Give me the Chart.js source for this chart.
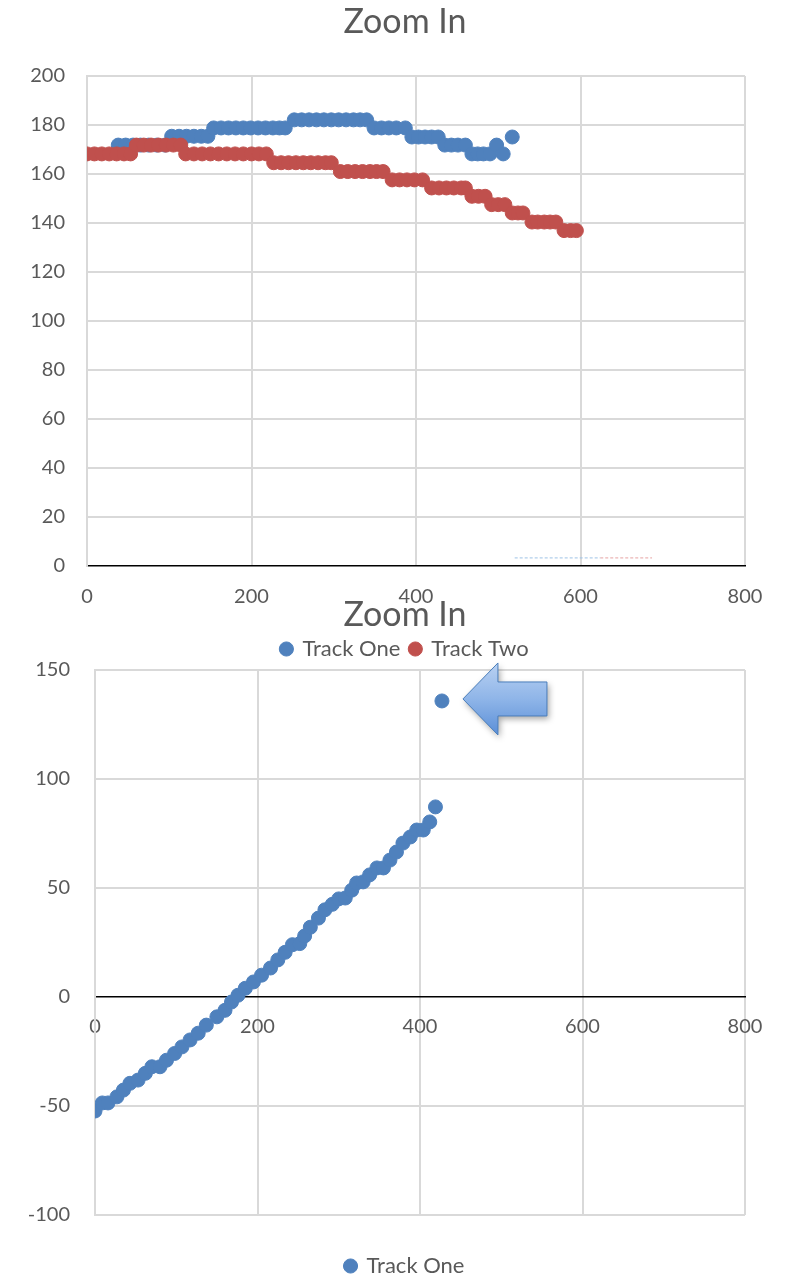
<!DOCTYPE html>
<html>
<head>
<meta charset="utf-8">
<title>Zoom In</title>
<script src="https://cdn.jsdelivr.net/npm/chart.js@4.4.0/dist/chart.umd.min.js"></script>
<style>
  html, body { margin: 0; padding: 0; background: #fff; overflow: hidden; width: 789px; height: 1276px; }
  .box { position: absolute; left: 0; width: 810px; }
  #top-box { top: 0; height: 680px; }
  #bottom-box { top: 590px; height: 700px; }
</style>
</head>
<body>
<div class="box" id="top-box"><canvas id="top-chart"></canvas></div>
<div class="box" id="bottom-box"><canvas id="bottom-chart"></canvas></div>
<script>
// Top chart: two tracks (distance vs. elevation)
const trackOneX = [38, 47, 56, 65, 75, 85, 95,
  103, 112, 121, 130, 139, 147,
  154, 163, 172, 181, 190, 199, 208, 217, 226, 234, 241,
  252, 261, 270, 279, 288, 297, 306, 315, 324, 332, 340,
  349, 358, 367, 376, 387,
  395, 403, 411, 419, 427,
  435, 443, 451, 460,
  468, 475, 482, 490,
  498, 506, 517];
const trackOneY = [171.8, 171.8, 171.8, 171.8, 171.8, 171.8, 171.8,
  175.4, 175.4, 175.4, 175.4, 175.4, 175.4,
  178.8, 178.8, 178.8, 178.8, 178.8, 178.8, 178.8, 178.8, 178.8, 178.8, 178.8,
  182.1, 182.1, 182.1, 182.1, 182.1, 182.1, 182.1, 182.1, 182.1, 182.1, 182.1,
  178.8, 178.8, 178.8, 178.8, 178.8,
  175.1, 175.1, 175.1, 175.1, 175.1,
  171.8, 171.8, 171.8, 171.8,
  168.2, 168.2, 168.2, 168.2,
  171.8, 168.2, 175.1];

const trackTwoX = [0, 9, 18, 27, 36, 45, 53,
  60, 69, 78, 87, 96, 105, 114,
  120, 130, 140, 150, 160, 170, 180, 190, 200, 209, 218,
  227, 236, 245, 254, 263, 272, 281, 290, 297,
  308, 317, 326, 335, 344, 352, 360,
  371, 380, 389, 398, 408,
  419, 428, 437, 446, 455, 460,
  468, 476, 484,
  492, 500, 508,
  517, 524, 530,
  541, 548, 556, 563, 570,
  580, 588, 595];
const trackTwoY = [168.2, 168.2, 168.2, 168.2, 168.2, 168.2, 168.2,
  171.8, 171.8, 171.8, 171.8, 171.8, 171.8, 171.8,
  168.2, 168.2, 168.2, 168.2, 168.2, 168.2, 168.2, 168.2, 168.2, 168.2, 168.2,
  164.6, 164.6, 164.6, 164.6, 164.6, 164.6, 164.6, 164.6, 164.6,
  161.0, 161.0, 161.0, 161.0, 161.0, 161.0, 161.0,
  157.6, 157.6, 157.6, 157.6, 157.6,
  154.3, 154.3, 154.3, 154.3, 154.3, 154.3,
  150.9, 150.9, 150.9,
  147.5, 147.5, 147.5,
  144.1, 144.1, 144.1,
  140.4, 140.4, 140.4, 140.4, 140.4,
  136.9, 136.9, 136.9];

// leftover dashed legend strokes near the bottom of the top chart
const dashOneX = [520, 624];
const dashOneY = [3.3, 3.3];
const dashTwoX = [624, 687];
const dashTwoY = [3.3, 3.3];

// Bottom chart: zoomed track one
const zoomX = [0, 9, 16, 27, 35, 43, 53, 62, 70, 80, 88, 98, 107, 117, 127, 137, 150, 160, 168, 176,
  185, 195, 205, 216, 225, 234, 243, 252, 258, 265, 275, 283, 292, 300, 308, 316, 322, 330, 338, 347, 355, 363,
  371, 379, 388, 396, 404, 412, 419, 427];
const zoomY = [-52.3, -48.6, -48.6, -45.8, -42.7, -39.6, -38.1, -35, -32, -32, -29, -25.9, -22.9, -19.7, -16.6, -12.9, -9.1, -6.1, -2.3, 0.8,
  4, 6.9, 10, 13.3, 17, 20.5, 24, 24.5, 28, 32, 36.2, 40, 42.5, 45, 45.4, 49, 52.3, 52.8, 56, 59.2, 59.2, 62.8,
  66.5, 70.6, 73.4, 76.6, 76.6, 80.3, 87.2, 135.8];

const xTicks = [0, 200, 400, 600, 800];
const topYTicks = [0, 200, 20];   // min, max, step
const bottomYTicks = [-100, 150, 50];

const BLUE = '#4f81bd';
const RED = '#c0504d';
const TEXT = '#595959';
const GRID = '#d9d9d9';
const FONT = 'Lato, "Open Sans", sans-serif';

const toPoints = (xs, ys) => xs.map((x, i) => ({ x: x, y: ys[i] }));
const gridColor = ctx => (ctx.tick && ctx.tick.value === 0 ? 'rgba(0,0,0,0)' : GRID);

function dotSet(label, xs, ys, color, order) {
  return {
    label: label,
    data: toPoints(xs, ys),
    backgroundColor: color,
    borderColor: color,
    borderWidth: 1,
    pointRadius: 7,
    pointHoverRadius: 7,
    order: order
  };
}

function dashSet(xs, ys, color) {
  return {
    label: '',
    data: toPoints(xs, ys),
    showLine: true,
    borderColor: color,
    borderWidth: 1,
    borderDash: [3, 2],
    pointRadius: 0,
    order: 5
  };
}

// empty right-hand axis that only reserves space, so title and legend centre like Excel
const spacerAxis = {
  position: 'right',
  display: true,
  ticks: { display: false },
  grid: { display: false },
  border: { display: false },
  afterFit: s => { s.width = 65; }
};

function baseOptions(title, titlePad, legendPad) {
  return {
    responsive: true,
    maintainAspectRatio: false,
    animation: false,
    plugins: {
      title: {
        display: true,
        text: title,
        color: TEXT,
        font: { family: FONT, size: 34, weight: 'normal' },
        padding: titlePad
      },
      legend: {
        position: 'bottom',
        labels: {
          color: TEXT,
          font: { family: FONT, size: 22 },
          usePointStyle: true,
          pointStyle: 'circle',
          boxWidth: 10,
          boxHeight: 10,
          padding: legendPad,
          filter: item => item.text !== '',
          sort: (a, b) => a.datasetIndex - b.datasetIndex
        }
      },
      tooltip: { enabled: false }
    }
  };
}

// Top chart
const topOpts = baseOptions('Zoom In', { top: 1.6, bottom: 33.6 }, 10);
topOpts.layout = { padding: { left: 0, right: 0, top: 0, bottom: 10 } };
topOpts.scales = {
  x: {
    type: 'linear',
    min: xTicks[0],
    max: xTicks[xTicks.length - 1],
    afterBuildTicks: s => { s.ticks = xTicks.map(v => ({ value: v })); },
    ticks: { color: TEXT, font: { family: FONT, size: 20 }, padding: 19 },
    grid: { color: GRID, lineWidth: 2, drawTicks: false },
    border: { color: '#000', width: 1.5 },
    afterFit: s => { s.height = 62; }
  },
  y: {
    min: topYTicks[0],
    max: topYTicks[1],
    ticks: { stepSize: topYTicks[2], color: TEXT, font: { family: FONT, size: 20 }, padding: 22 },
    grid: { color: gridColor, lineWidth: 2, drawTicks: false },
    border: { color: GRID, width: 2 },
    afterFit: s => { s.width = 87; }
  },
  spacer: spacerAxis
};

new Chart(document.getElementById('top-chart'), {
  type: 'scatter',
  data: {
    datasets: [
      dotSet('Track One', trackOneX, trackOneY, BLUE, 2),
      dotSet('Track Two', trackTwoX, trackTwoY, RED, 1),
      dashSet(dashOneX, dashOneY, '#9dc3e6'),
      dashSet(dashTwoX, dashTwoY, '#e6a3a3')
    ]
  },
  options: topOpts
});

// Arrow pointing at the outlier in the bottom chart
const arrowPlugin = {
  id: 'arrow',
  afterDatasetsDraw(chart) {
    const meta = chart.getDatasetMeta(0);
    const pt = meta.data[meta.data.length - 1];
    const ctx = chart.ctx;
    const tipX = pt.x + 21, cy = pt.y - 2;
    const headX = pt.x + 56, endX = pt.x + 105;
    const headH = 36, shaftH = 17;
    ctx.save();
    ctx.beginPath();
    ctx.moveTo(tipX, cy);
    ctx.lineTo(headX, cy - headH);
    ctx.lineTo(headX, cy - shaftH);
    ctx.lineTo(endX, cy - shaftH);
    ctx.lineTo(endX, cy + shaftH);
    ctx.lineTo(headX, cy + shaftH);
    ctx.lineTo(headX, cy + headH);
    ctx.closePath();
    const grad = ctx.createLinearGradient(0, cy - headH, 0, cy + headH);
    grad.addColorStop(0, '#b9d1f2');
    grad.addColorStop(0.5, '#8fb5e8');
    grad.addColorStop(1, '#5b8fd8');
    ctx.shadowColor = 'rgba(0,0,0,0.35)';
    ctx.shadowBlur = 6;
    ctx.shadowOffsetX = 2;
    ctx.shadowOffsetY = 3;
    ctx.fillStyle = grad;
    ctx.fill();
    ctx.shadowColor = 'rgba(0,0,0,0)';
    ctx.strokeStyle = '#4a7ebb';
    ctx.lineWidth = 1;
    ctx.stroke();
    ctx.restore();
  }
};

// Bottom chart
const botOpts = baseOptions('Zoom In', { top: 4.6, bottom: 34.6 }, 40);
botOpts.layout = { padding: { left: 0, right: 0, top: 0, bottom: 3 } };
botOpts.scales = {
  x: {
    type: 'linear',
    position: { y: 0 },
    min: xTicks[0],
    max: xTicks[xTicks.length - 1],
    afterBuildTicks: s => { s.ticks = xTicks.map(v => ({ value: v })); },
    ticks: { color: TEXT, font: { family: FONT, size: 20 }, padding: 18 },
    grid: { color: GRID, lineWidth: 2, drawTicks: false },
    border: { color: '#000', width: 1.5 },
    afterFit: s => { s.height = 0; }
  },
  y: {
    min: bottomYTicks[0],
    max: bottomYTicks[1],
    ticks: { stepSize: bottomYTicks[2], color: TEXT, font: { family: FONT, size: 20 }, padding: 25 },
    grid: { color: gridColor, lineWidth: 2, drawTicks: false },
    border: { color: GRID, width: 2 },
    afterFit: s => { s.width = 95; }
  },
  spacer: spacerAxis
};

new Chart(document.getElementById('bottom-chart'), {
  type: 'scatter',
  data: {
    datasets: [dotSet('Track One', zoomX, zoomY, BLUE, 1)]
  },
  options: botOpts,
  plugins: [arrowPlugin]
});
</script>
</body>
</html>
